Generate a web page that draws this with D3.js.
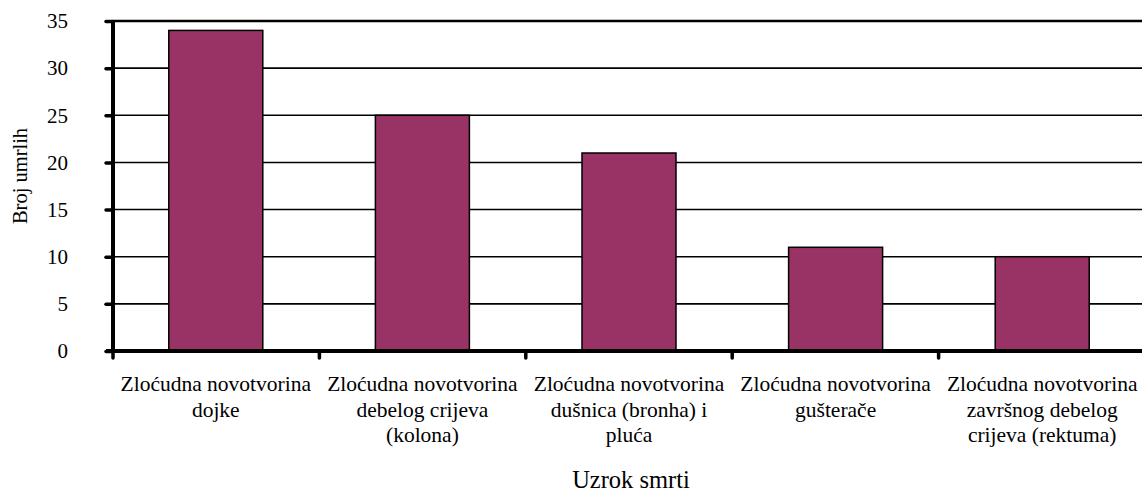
<!DOCTYPE html>
<html>
<head>
<meta charset="utf-8">
<script src="https://cdn.jsdelivr.net/npm/d3@7"></script>
<style>
  body { margin: 0; background: #fff; }
  svg text { font-family: "Liberation Serif", "Times New Roman", Tinos, "DejaVu Serif", serif !important; fill: #000; }
</style>
</head>
<body>
<div id="chart"></div>
<script>
// data
const categories = [
    ["Zloćudna novotvorina", "dojke"],
    ["Zloćudna novotvorina", "debelog crijeva", "(kolona)"],
    ["Zloćudna novotvorina", "dušnica (bronha) i", "pluća"],
    ["Zloćudna novotvorina", "gušterače"],
    ["Zloćudna novotvorina", "završnog debelog", "crijeva (rektuma)"]
]
const deaths = [34, 25, 21, 11, 10]
const yTicks = [0, 5, 10, 15, 20, 25, 30, 35]

const width = 1142
const height = 492
const margin = {top: 21, right: -3, bottom: 141, left: 113}

const svg = d3.select("#chart").append("svg")
    .attr("width", width)
    .attr("height", height)

const x = d3.scaleBand()
    .domain(d3.range(categories.length))
    .range([margin.left, width - margin.right])
    .paddingInner(0.545)
    .paddingOuter(0.27)

const y = d3.scaleLinear()
    .domain([0, 35])
    .range([height - margin.bottom, margin.top])

// gridlines
svg.append("g")
    .selectAll("line")
    .data(yTicks.filter(d => d > 0))
    .join("line")
    .attr("x1", margin.left)
    .attr("x2", width)
    .attr("y1", d => y(d))
    .attr("y2", d => y(d))
    .attr("stroke", "#000")
    .attr("stroke-width", d => d === 35 ? 2.5 : 1.6)

// bars
svg.append("g")
    .selectAll("rect")
    .data(deaths)
    .join("rect")
    .attr("x", (d, i) => x(i))
    .attr("y", d => y(d))
    .attr("width", x.bandwidth())
    .attr("height", d => y(0) - y(d))
    .attr("fill", "#993366")
    .attr("stroke", "#000")
    .attr("stroke-width", 1.5)

// y axis
const yAxis = svg.append("g")
    .attr("transform", `translate(${margin.left},0)`)
    .call(d3.axisLeft(y).tickValues(yTicks).tickSize(7).tickPadding(38))
yAxis.select(".domain").attr("stroke-width", 4).attr("d", `M0,${y(35)}V${y(0)}`)
yAxis.selectAll(".tick line").attr("stroke-width", 3.5).attr("stroke-linecap", "round")
yAxis.selectAll(".tick text")
    .attr("font-size", 21)

// x axis with separators between categories
const bounds = d3.range(categories.length).map(i => margin.left + i * (width - margin.right - margin.left) / categories.length)
const xAxis = svg.append("g")
xAxis.append("line")
    .attr("x1", margin.left - 7)
    .attr("x2", width)
    .attr("y1", y(0))
    .attr("y2", y(0))
    .attr("stroke", "#000")
    .attr("stroke-width", 4)
xAxis.selectAll(".sep")
    .data(bounds)
    .join("line")
    .attr("class", "sep")
    .attr("x1", d => d)
    .attr("x2", d => d)
    .attr("y1", y(0))
    .attr("y2", y(0) + 7)
    .attr("stroke", "#000")
    .attr("stroke-width", 3.5)
    .attr("stroke-linecap", "round")

// category labels
const labels = svg.append("g")
    .attr("font-size", 21.5)
    .attr("text-anchor", "middle")
    .selectAll("text")
    .data(categories)
    .join("text")
    .attr("x", (d, i) => x(i) + x.bandwidth() / 2)
    .attr("y", y(0) + 40)
labels.selectAll("tspan")
    .data(d => d)
    .join("tspan")
    .attr("x", function() { return this.parentNode.getAttribute("x") })
    .attr("dy", (d, i) => i === 0 ? 0 : 25.5)
    .text(d => d)

// axis titles
svg.append("text")
    .attr("x", 631)
    .attr("y", 488)
    .attr("text-anchor", "middle")
    .attr("font-size", 24.5)
    .text("Uzrok smrti")

svg.append("text")
    .attr("transform", "translate(27,176) rotate(-90)")
    .attr("text-anchor", "middle")
    .attr("font-size", 20.5)
    .text("Broj umrlih")
</script>
</body>
</html>
